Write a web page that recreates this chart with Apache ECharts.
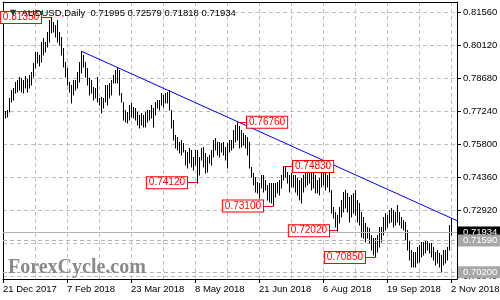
<!DOCTYPE html>
<html><head><meta charset="utf-8">
<script src="https://cdn.jsdelivr.net/npm/echarts@6/dist/echarts.min.js"></script>
<style>html,body{margin:0;padding:0;background:#fff}#c{width:500px;height:300px}</style>
</head><body><div id="c"></div>
<script>
// Daily highs / lows, 21 Dec 2017 .. 2 Nov 2018
const highs = [
0.7708,0.7726,0.7730,0.7783,0.7818,0.7826,0.7853,0.7861,0.7875,0.7870,
0.7861,0.7879,0.7866,0.7883,0.7896,0.7936,0.7984,0.7984,0.7971,0.8028,
0.8045,0.8028,0.8072,0.8124,0.8135,0.8115,0.8102,0.8124,0.8072,0.8050,
0.8002,0.7940,0.7914,0.7853,0.7840,0.7861,0.7861,0.7896,0.7940,0.7988,
0.7971,0.7940,0.7914,0.7870,0.7861,0.7831,0.7826,0.7875,0.7783,0.7787,
0.7783,0.7840,0.7840,0.7848,0.7861,0.7883,0.7905,0.7918,0.7905,0.7805,
0.7765,0.7730,0.7721,0.7752,0.7761,0.7743,0.7739,0.7721,0.7708,0.7717,
0.7708,0.7721,0.7730,0.7730,0.7752,0.7739,0.7765,0.7774,0.7774,0.7805,
0.7796,0.7805,0.7809,0.7818,0.7730,0.7686,0.7621,0.7612,0.7590,0.7599,
0.7586,0.7555,0.7546,0.7564,0.7555,0.7524,0.7555,0.7555,0.7524,0.7564,
0.7568,0.7542,0.7524,0.7533,0.7555,0.7599,0.7608,0.7590,0.7590,0.7586,
0.7590,0.7568,0.7586,0.7599,0.7599,0.7643,0.7665,0.7676,0.7660,0.7643,
0.7629,0.7621,0.7612,0.7590,0.7481,0.7454,0.7437,0.7415,0.7411,0.7446,
0.7446,0.7424,0.7402,0.7411,0.7411,0.7411,0.7411,0.7415,0.7424,0.7446,
0.7483,0.7481,0.7459,0.7446,0.7454,0.7446,0.7446,0.7432,0.7424,0.7432,
0.7446,0.7454,0.7468,0.7468,0.7459,0.7468,0.7446,0.7424,0.7432,0.7459,
0.7459,0.7454,0.7446,0.7459,0.7380,0.7306,0.7284,0.7271,0.7306,0.7336,
0.7371,0.7380,0.7367,0.7349,0.7358,0.7367,0.7381,0.7336,0.7323,0.7284,
0.7262,0.7236,0.7218,0.7214,0.7183,0.7170,0.7170,0.7183,0.7218,0.7218,
0.7262,0.7279,0.7271,0.7292,0.7301,0.7292,0.7284,0.7316,0.7284,0.7262,
0.7249,0.7240,0.7205,0.7161,0.7117,0.7109,0.7109,0.7131,0.7139,0.7152,
0.7152,0.7155,0.7158,0.7150,0.7148,0.7131,0.7109,0.7117,0.7104,0.7095,
0.7117,0.7117,0.7131,0.7227,0.72579
];
const lows = [
0.7651,0.7695,0.7700,0.7721,0.7765,0.7774,0.7805,0.7809,0.7818,0.7809,
0.7805,0.7826,0.7809,0.7826,0.7840,0.7875,0.7914,0.7936,0.7923,0.7940,
0.7971,0.7984,0.8006,0.8028,0.8067,0.8072,0.8050,0.8028,0.8015,0.7971,
0.7918,0.7875,0.7840,0.7809,0.7761,0.7796,0.7818,0.7826,0.7853,0.7892,
0.7918,0.7875,0.7840,0.7796,0.7805,0.7774,0.7783,0.7765,0.7752,0.7717,
0.7739,0.7765,0.7752,0.7783,0.7796,0.7848,0.7848,0.7848,0.7796,0.7765,
0.7686,0.7678,0.7673,0.7686,0.7700,0.7695,0.7686,0.7665,0.7651,0.7665,
0.7656,0.7656,0.7678,0.7686,0.7695,0.7656,0.7708,0.7739,0.7730,0.7752,
0.7743,0.7761,0.7761,0.7730,0.7651,0.7599,0.7564,0.7555,0.7542,0.7533,
0.7546,0.7489,0.7476,0.7498,0.7481,0.7468,0.7489,0.7412,0.7446,0.7511,
0.7481,0.7454,0.7459,0.7498,0.7489,0.7524,0.7555,0.7533,0.7524,0.7546,
0.7533,0.7511,0.7476,0.7546,0.7555,0.7564,0.7590,0.7599,0.7564,0.7568,
0.7577,0.7564,0.7533,0.7476,0.7437,0.7402,0.7371,0.7367,0.7345,0.7389,
0.7371,0.7380,0.7336,0.7327,0.7323,0.7310,0.7349,0.7367,0.7358,0.7389,
0.7424,0.7437,0.7411,0.7371,0.7393,0.7393,0.7371,0.7358,0.7336,0.7323,
0.7371,0.7393,0.7402,0.7411,0.7380,0.7389,0.7367,0.7367,0.7358,0.7393,
0.7402,0.7380,0.7393,0.7371,0.7279,0.7257,0.7218,0.7202,0.7236,0.7262,
0.7284,0.7301,0.7284,0.7240,0.7262,0.7279,0.7271,0.7240,0.7227,0.7174,
0.7170,0.7152,0.7170,0.7148,0.7117,0.7095,0.7085,0.7109,0.7131,0.7152,
0.7183,0.7205,0.7218,0.7236,0.7240,0.7218,0.7227,0.7240,0.7227,0.7214,
0.7205,0.7161,0.7117,0.7074,0.7043,0.7041,0.7043,0.7060,0.7065,0.7087,
0.7095,0.7104,0.7117,0.7104,0.7087,0.7074,0.7052,0.7060,0.7043,0.7020,
0.7052,0.7060,0.7074,0.7117,0.71818
];
const yTicks = [0.7004,0.7148,0.7292,0.7436,0.7580,0.7724,0.7868,0.8012,0.8156];
const lastBar = ['0.71995','0.72579','0.71818','0.71934'];
// pivot labels: bar index, price, index where label box sits
const pivots = [
  {bar:24,  price:0.8135, box:19,  text:'0.81350'},
  {bar:117, price:0.7676, box:122, text:'0.76760'},
  {bar:97,  price:0.7412, box:92,  text:'0.74120'},
  {bar:135, price:0.7310, box:130, text:'0.73100'},
  {bar:140, price:0.7483, box:145, text:'0.74830'},
  {bar:167, price:0.7202, box:163, text:'0.72020'},
  {bar:186, price:0.7085, box:181, text:'0.70850'}
];
const trend = [[39, 0.7988], [227, 0.72456]];
const bidLevel = 0.71934;
const levels = [0.71590, 0.70200];

// trading-day categories
const months = ['Jan','Feb','Mar','Apr','May','Jun','Jul','Aug','Sep','Oct','Nov','Dec'];
const holidays = ['2017-12-25','2018-01-01'];
const categories = [];
let d = new Date(Date.UTC(2017,11,21));
while (categories.length < 228) {
  const wd = d.getUTCDay();
  const iso = d.toISOString().slice(0,10);
  if (wd !== 0 && wd !== 6 && holidays.indexOf(iso) < 0)
    categories.push(d.getUTCDate() + ' ' + months[d.getUTCMonth()] + ' ' + d.getUTCFullYear());
  d = new Date(d.getTime() + 86400000);
}

const FONT = 'Liberation Sans, Arial, sans-serif';
const grid = '#c0c0c0';
const chart = echarts.init(document.getElementById('c'), null, {renderer:'canvas'});

const markData = [
  [{coord: trend[0], lineStyle:{color:'#0000ff', width:1, type:'solid'}}, {coord: trend[1]}],
  {yAxis: bidLevel, lineStyle:{color:'#b4b4b4', width:1, type:'solid'},
   label:{show:true, position:'end', distance:1, formatter: lastBar[3], color:'#fff', backgroundColor:'#000',
          padding:[1,4,1,5], fontSize:9.5, fontFamily:FONT}},
];
levels.forEach(v => markData.push({yAxis: v, lineStyle:{color:'#b4b4b4', width:1, type:[4,3]},
   label:{show:true, position:'end', distance:1, formatter: v.toFixed(5), color:'#fff', backgroundColor:'#a8a8a8',
          padding:[1,4,1,5], fontSize:9.5, fontFamily:FONT}}));
pivots.forEach(p => markData.push([
  {coord:[p.bar, p.price], lineStyle:{color:'#ff0000', width:1, type:'solid'},
   label:{show:true, position:'end', distance:0, formatter:p.text, color:'#ff0000', backgroundColor:'#fff',
          borderColor:'#ff0000', borderWidth:1, padding:[1,2,0,2], fontSize:10, fontFamily:FONT}},
  {coord:[p.box, p.price]}
]));

chart.setOption({
  animation:false,
  backgroundColor:'#fff',
  title:[
    {text:'{t|▼}  AUDUSD,Daily  ' + lastBar.join(' '), left:5, top:3, z:100, zlevel:1,
     textStyle:{fontSize:9.5, fontWeight:'normal', color:'#000', fontFamily:FONT,
       rich:{t:{fontSize:8, color:'#333', fontFamily:'DejaVu Sans'}}}},
    {text:'ForexCycle.com', left:3, top:253, z:100,
     textStyle:{fontSize:20, fontWeight:'bold', color:'#8a8a8a', fontFamily:'Liberation Serif, Times New Roman, serif'}}
  ],
  grid:{left:3, right:43, top:2, bottom:21, outerBoundsMode:'none', containLabel:false},
  xAxis:[
    {type:'category', data:categories, boundaryGap:false,
     axisLine:{lineStyle:{color:'#000', width:1}},
     axisTick:{show:true, interval:(i)=>i%32===0, length:4, lineStyle:{color:'#000'}},
     axisLabel:{interval:(i)=>i%32===0, align:'left', color:'#000', fontSize:9.5, fontFamily:FONT, margin:5},
     splitLine:{show:true, interval:(i)=>i%16===0, lineStyle:{color:grid, type:[4,3], width:1}}},
    {type:'category', data:categories, boundaryGap:false, position:'top',
     axisLine:{lineStyle:{color:'#000', width:1}}, axisTick:{show:false}, axisLabel:{show:false}, splitLine:{show:false}}
  ],
  yAxis:[
    {type:'value', position:'right', min:0.69904, max:0.82028,
     axisLine:{show:true, lineStyle:{color:'#000', width:1}},
     axisTick:{show:true, customValues:yTicks, length:4, lineStyle:{color:'#000'}},
     axisLabel:{customValues:yTicks, formatter:(v)=>v.toFixed(5), color:'#000', fontSize:9.5, fontFamily:FONT, margin:6},
     splitLine:{show:true, lineStyle:{color:grid, type:[4,3], width:1}}},
    {type:'value', position:'left', min:0.69904, max:0.82028,
     axisLine:{show:true, lineStyle:{color:'#000', width:1}}, axisTick:{show:false}, axisLabel:{show:false}, splitLine:{show:false}}
  ],
  series:[{
    type:'custom', xAxisIndex:0, yAxisIndex:0, clip:true, silent:true,
    data: highs.map((h,i)=>[i, lows[i], h]),
    encode:{x:0, y:[1,2]},
    renderItem:(params, api)=>{
      const lo = api.coord([api.value(0), api.value(1)]);
      const hi = api.coord([api.value(0), api.value(2)]);
      const x = Math.round(lo[0]) + 0.5;
      return {type:'line', shape:{x1:x, y1:Math.round(lo[1])+0.5, x2:x, y2:Math.round(hi[1])}, style:{stroke:'#000', lineWidth:1}};
    },
    markLine:{silent:true, symbol:'none', animation:false, precision:5, data:markData}
  }]
});
</script></body></html>
